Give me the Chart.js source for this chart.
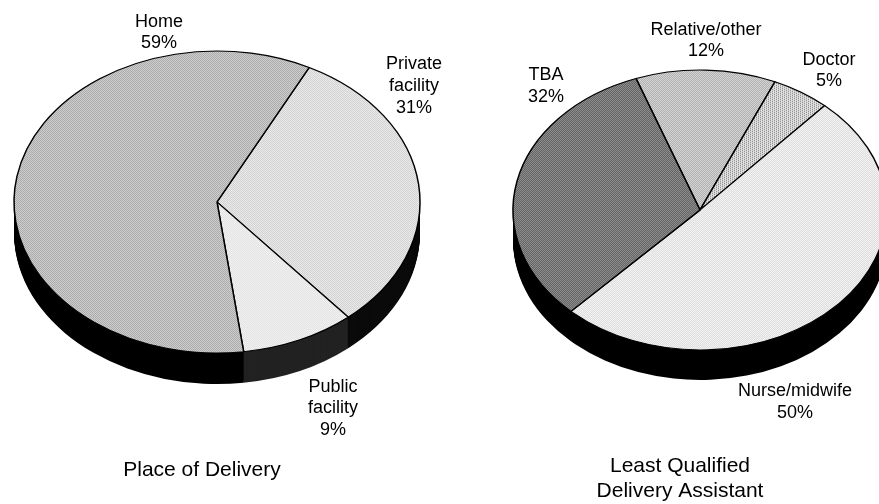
<!DOCTYPE html>
<html>
<head>
<meta charset="utf-8">
<title>Place of Delivery and Least Qualified Delivery Assistant</title>
<script src="https://cdn.jsdelivr.net/npm/chart.js@4"></script>
<style>
  html, body { margin: 0; padding: 0; background: #fff; overflow: hidden; }
  canvas { position: absolute; left: 0; top: 0; }
</style>
</head>
<body>
<canvas id="place" width="879" height="504"></canvas>
<canvas id="assistant" width="879" height="504"></canvas>
<script>
const placeCategories = ['Private facility', 'Public facility', 'Home'];
const placeValues = [31, 9, 59];
const assistantCategories = ['Relative/other', 'Doctor', 'Nurse/midwife', 'TBA'];
const assistantValues = [12, 5, 50, 32];

const FONT = '"Liberation Sans", Arial, sans-serif';

// 4x4 halftone tiles, each row is one pixel row: # dark, . light
const DOTS_DENSE = ['#.#.', '.#.#', '#.#.', '.#.#'];
const DOTS_SPARSE = ['#...', '..#.', '#...', '..#.'];

function halftone(rows, light, dark, squash) {
  const tile = document.createElement('canvas');
  tile.width = tile.height = 4;
  const t = tile.getContext('2d');
  t.fillStyle = light;
  t.fillRect(0, 0, 4, 4);
  t.fillStyle = dark;
  rows.forEach((row, y) => {
    [...row].forEach((c, x) => { if (c === '#') t.fillRect(x, y, 1, 1); });
  });
  const pattern = t.createPattern(tile, 'repeat');
  // undo the pie squash so that the dots stay square
  pattern.setTransform(new DOMMatrix().scale(1, 1 / squash));
  return pattern;
}

// Fakes the tilted 3D pie: the wall is painted first, then the real arcs get squashed
const tiltedPie = {
  id: 'tiltedPie',
  beforeDatasetsDraw(chart, args, opts) {
    const ctx = chart.ctx;
    const arcs = chart.getDatasetMeta(0).data;
    const cx = arcs[0].x, cy = arcs[0].y;
    for (let d = opts.depth; d >= 1; d--) {
      arcs.forEach((arc, i) => {
        ctx.save();
        ctx.translate(cx, cy + d);
        ctx.scale(1, opts.squash);
        ctx.beginPath();
        ctx.moveTo(0, 0);
        ctx.arc(0, 0, arc.outerRadius, arc.startAngle, arc.endAngle);
        ctx.closePath();
        ctx.fillStyle = opts.walls[i];
        ctx.fill();
        ctx.restore();
      });
    }
    ctx.save();
    ctx.translate(cx, cy);
    ctx.scale(1, opts.squash);
    ctx.translate(-cx, -cy);
  },
  afterDatasetsDraw(chart, args, opts) {
    const ctx = chart.ctx;
    ctx.restore();
    ctx.fillStyle = '#000';
    ctx.textAlign = 'center';
    ctx.textBaseline = 'middle';
    opts.texts.forEach(([text, x, y, size]) => {
      ctx.font = size + 'px ' + FONT;
      ctx.fillText(text, x, y);
    });
  }
};

function makePie(id, labels, data, fills, rotation, radius, padding, tilt) {
  return new Chart(document.getElementById(id), {
    type: 'pie',
    data: {
      labels,
      datasets: [{
        data,
        backgroundColor: fills,
        borderColor: '#000',
        borderWidth: 1.5,
        borderJoinStyle: 'round',
        radius,
        clip: false
      }]
    },
    options: {
      responsive: false,
      animation: false,
      events: [],
      rotation,
      layout: { padding },
      plugins: {
        legend: { display: false },
        tooltip: { enabled: false },
        tiltedPie: tilt
      }
    },
    plugins: [tiltedPie]
  });
}

const placeSquash = 151 / 203;
makePie('place', placeCategories, placeValues, [
  halftone(DOTS_DENSE, '#f4f4f4', '#c8c8c8', placeSquash),
  halftone(DOTS_DENSE, '#f8f8f8', '#dcdcdc', placeSquash),
  halftone(DOTS_DENSE, '#e0e0e0', '#9a9a9a', placeSquash)
], 27, 203, { left: 0, right: 445, top: 0, bottom: 100 }, {
  squash: placeSquash,
  depth: 31,
  walls: ['#0a0a0a', '#222', '#000'],
  texts: [
    ['Home', 159, 22, 18],
    ['59%', 159, 43, 18],
    ['Private', 414, 64, 18],
    ['facility', 414, 86, 18],
    ['31%', 414, 108, 18],
    ['Public', 333, 387, 18],
    ['facility', 333, 408, 18],
    ['9%', 333, 430, 18],
    ['Place of Delivery', 202, 470, 21]
  ]
});

const assistantSquash = 140 / 187;
makePie('assistant', assistantCategories, assistantValues, [
  halftone(DOTS_DENSE, '#dedede', '#a8a8a8', assistantSquash),
  halftone(DOTS_SPARSE, '#e0e0e0', '#808080', assistantSquash),
  halftone(DOTS_DENSE, '#f8f8f8', '#d8d8d8', assistantSquash),
  halftone(DOTS_DENSE, '#9a9a9a', '#585858', assistantSquash)
], -20, 187, { left: 521, right: 0, top: 0, bottom: 84 }, {
  squash: assistantSquash,
  depth: 30,
  walls: ['#000', '#000', '#000', '#000'],
  texts: [
    ['Relative/other', 706, 30, 18],
    ['12%', 706, 51, 18],
    ['Doctor', 829, 60, 18],
    ['5%', 829, 81, 18],
    ['TBA', 546, 75, 18],
    ['32%', 546, 97, 18],
    ['Nurse/midwife', 795, 391, 18],
    ['50%', 795, 413, 18],
    ['Least Qualified', 680, 466, 21],
    ['Delivery Assistant', 680, 491, 21]
  ]
});
</script>
</body>
</html>
